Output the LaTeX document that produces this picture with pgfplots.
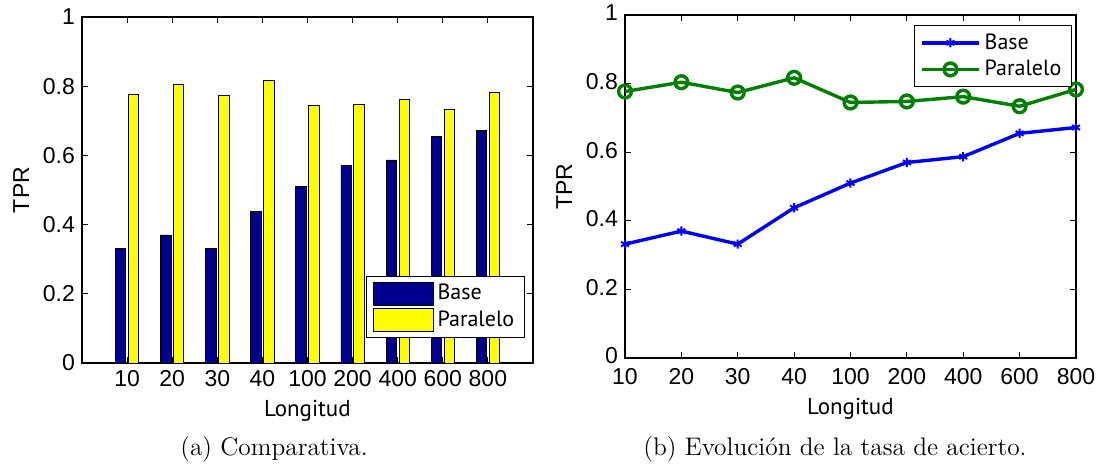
\documentclass[border=0pt]{standalone}
\usepackage{pgfplots}
\pgfplotsset{compat=1.18}
\usepackage{fontspec}
\newfontfamily\arial{Liberation Sans}
\newfontfamily\myriad{PT Sans}

\definecolor{mblue}{RGB}{0,0,143}
\definecolor{myellow}{RGB}{255,255,0}
\definecolor{lblue}{RGB}{0,0,255}
\definecolor{lgreen}{RGB}{0,128,0}

\pgfplotsset{
  matlab/.style={
    scale only axis,
    axis line style={line width=0.6pt},
    tick align=inside,
    major tick length=3pt,
    tick style={black, line width=0.5pt},
    ymin=0, ymax=1,
    ytick={0,0.2,0.4,0.6,0.8,1},
    yticklabels={0,0.2,0.4,0.6,0.8,1},
    xtick={0,...,8},
    xticklabels={10,20,30,40,100,200,400,600,800},
    ticklabel style={font=\arial\fontsize{11.5}{13}\selectfont},
    ylabel={TPR},
    ylabel style={font=\arial\fontsize{11.5}{13}\selectfont},
    xlabel={Longitud},
    xlabel style={font=\myriad\fontsize{11.5}{13}\selectfont},
    legend cell align=left,
    legend style={draw=black, line width=0.6pt, font=\myriad\fontsize{11}{13}\selectfont},
  }
}

\begin{document}
\begin{tikzpicture}
\useasboundingbox (0,0) rectangle (550pt,231.5pt);

% (a) bars
\begin{axis}[matlab,
    at={(41pt,50pt)}, anchor=south west,
    width=225.5pt, height=173pt,
    xmin=-1, xmax=9,
    legend image code/.code={\draw[#1] (0pt,-5.75pt) rectangle (30pt,5.75pt);},
    legend style={at={(0.982,0.072)}, anchor=south east},
  ]
\addplot[ybar, bar width=0.229, bar shift=-0.143, fill=mblue, draw=black, line width=0.4pt]
  coordinates {(0,0.332) (1,0.370) (2,0.332) (3,0.438) (4,0.510) (5,0.570) (6,0.587) (7,0.655) (8,0.672)};
\addplot[ybar, bar width=0.229, bar shift=0.143, fill=myellow, draw=black, line width=0.4pt]
  coordinates {(0,0.777) (1,0.804) (2,0.774) (3,0.817) (4,0.745) (5,0.748) (6,0.762) (7,0.734) (8,0.783)};
\legend{Base, Paralelo}
\end{axis}

% (b) lines
\begin{axis}[matlab,
    at={(312.5pt,52.5pt)}, anchor=south west,
    width=225.5pt, height=171.5pt,
    xmin=0, xmax=8,
    xticklabel style={yshift=-1.5pt},
    yticklabel style={yshift=1pt},
    legend image code/.code={\draw[mark repeat=2, mark phase=2, #1] plot coordinates {(0pt,0pt) (14.25pt,0pt) (28.5pt,0pt)};},
    legend style={at={(0.991,0.971)}, anchor=north east},
  ]
\addplot[lblue, line width=1.7pt, mark=asterisk, mark size=2.3pt, mark options={line width=1pt}]
  coordinates {(0,0.332) (1,0.370) (2,0.332) (3,0.438) (4,0.510) (5,0.570) (6,0.587) (7,0.655) (8,0.672)};
\addplot[lgreen, line width=1.7pt, mark=o, mark size=3.2pt]
  coordinates {(0,0.777) (1,0.804) (2,0.774) (3,0.817) (4,0.745) (5,0.748) (6,0.762) (7,0.734) (8,0.783)};
\legend{Base, Paralelo}
\end{axis}

\node[anchor=base, inner sep=0pt, font=\fontsize{12.7}{15}\selectfont] at (137pt,4pt) {(a) Comparativa.};
\node[anchor=base, inner sep=0pt, font=\fontsize{12.7}{15}\selectfont] at (417.5pt,4pt) {(b) Evolución de la tasa de acierto.};
\end{tikzpicture}
\end{document}
